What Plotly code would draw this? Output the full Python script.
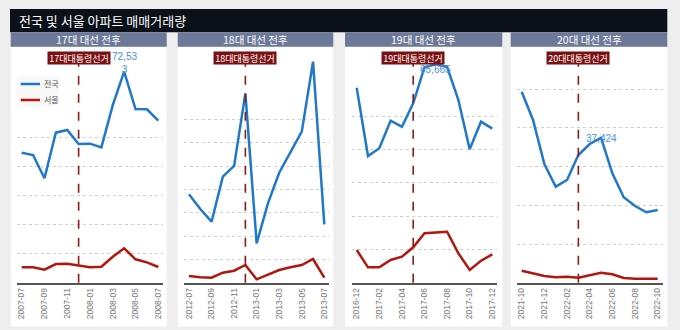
import plotly.graph_objects as go

W, H = 680, 330

# ---- data -------------------------------------------------------------
months_17 = ["2007-07", "2007-08", "2007-09", "2007-10", "2007-11", "2007-12", "2008-01",
             "2008-02", "2008-03", "2008-04", "2008-05", "2008-06", "2008-07"]
months_18 = ["2012-07", "2012-08", "2012-09", "2012-10", "2012-11", "2012-12", "2013-01",
             "2013-02", "2013-03", "2013-04", "2013-05", "2013-06", "2013-07"]
months_19 = ["2016-12", "2017-01", "2017-02", "2017-03", "2017-04", "2017-05", "2017-06",
             "2017-07", "2017-08", "2017-09", "2017-10", "2017-11", "2017-12"]
months_20 = ["2021-10", "2021-11", "2021-12", "2022-01", "2022-02", "2022-03", "2022-04",
             "2022-05", "2022-06", "2022-07", "2022-08", "2022-09", "2022-10"]

national_17 = [44680, 43880, 35870, 51560, 52470, 47660, 47780, 46520, 61000, 72533, 59690, 59580, 55680]
seoul_17 = [5280, 5280, 4470, 6420, 6530, 5970, 5280, 5500, 8930, 11810, 8030, 7000, 5400]
national_18 = [37930, 31630, 26180, 45490, 50090, 81280, 16900, 34060, 47210, 55800, 64810, 94850, 25060]
seoul_18 = [2870, 2300, 2150, 4290, 5150, 7600, 1450, 3300, 5450, 6600, 7600, 10170, 2150]
national_19 = [58650, 38100, 40420, 48730, 46920, 53950, 64800, 65665, 64900, 54950, 40110, 48430, 46330]
seoul_19 = [9830, 4630, 4630, 6830, 7820, 10640, 14850, 15150, 15340, 8830, 3820, 6620, 8540]
national_20 = [49360, 42040, 30670, 24810, 26540, 33000, 35840, 37424, 28270, 22070, 19820, 18190, 18790]
seoul_20 = [3100, 2430, 1730, 1400, 1550, 1300, 1900, 2580, 2170, 1210, 1040, 1040, 1040]

panel_titles = ["17대 대선 전후", "18대 대선 전후", "19대 대선 전후", "20대 대선 전후"]
election_labels = ["17대대통령선거", "18대대통령선거", "19대대통령선거", "20대대통령선거"]
election_months = ["2007-12", "2012-12", "2017-05", "2022-03"]
grid_values = [
    [10000, 20000, 30000, 40000, 50000],
    [10000, 20000, 30000, 40000, 50000, 60000, 70000],
    [10000, 20000, 30000, 40000, 50000],
    [10000, 20000, 30000, 40000, 50000],
]
peak_labels = [72533, None, 65665, 37424]

months = [months_17, months_18, months_19, months_20]
national = [national_17, national_18, national_19, national_20]
seoul = [seoul_17, seoul_18, seoul_19, seoul_20]

# ---- layout geometry (pixels) ------------------------------------------
panels = [
    dict(x0=10.7, x1=166.7, p0=21.7, p1=158.3, px10k=29.1, label_shift=-5),
    dict(x0=177.7, x1=333.3, p0=189.0, p1=324.3, px10k=23.3, label_shift=0),
    dict(x0=345.0, x1=502.3, p0=356.7, p1=492.3, px10k=33.25, label_shift=-5),
    dict(x0=510.7, x1=667.3, p0=521.7, p1=657.7, px10k=38.7, label_shift=-1),
]
BASE_Y = 282.7
TOP_Y = 47.0

BLUE = "#1f78c8"
RED = "#b3160f"
KR = "Noto Sans CJK KR"


def px(x):
    return x / W


def py(y):
    return 1 - y / H


fig = go.Figure()
shapes = []
annotations = []

# title bar
shapes.append(dict(type="rect", xref="paper", yref="paper", x0=px(10), x1=px(667.3),
                   y0=py(32.3), y1=py(9), fillcolor="#0b1019", line_width=0, layer="below"))
annotations.append(dict(text="전국 및 서울 아파트 매매거래량", xref="paper", yref="paper",
                        x=px(17), y=py(20.7), xanchor="left", yanchor="middle", showarrow=False,
                        font=dict(family=KR, size=13, color="white")))

layout_axes = {}
for i, p in enumerate(panels):
    n = i + 1
    xa = "xaxis" if n == 1 else f"xaxis{n}"
    ya = "yaxis" if n == 1 else f"yaxis{n}"
    xr = "x" if n == 1 else f"x{n}"
    yr = "y" if n == 1 else f"y{n}"
    cats = months[i]
    step = (p["p1"] - p["p0"]) / (len(cats) - 1)
    pad = 5.0
    idx = list(range(len(cats)))

    # panel body and header
    shapes.append(dict(type="rect", xref="paper", yref="paper", x0=px(p["x0"]), x1=px(p["x1"]),
                       y0=py(326.5), y1=py(46.7), fillcolor="white", line_width=0, layer="below"))
    shapes.append(dict(type="rect", xref="paper", yref="paper", x0=px(p["x0"]), x1=px(p["x1"]),
                       y0=py(46.7), y1=py(32.3), fillcolor="#6c7998", line_width=0, layer="below"))
    annotations.append(dict(text=panel_titles[i], xref="paper", yref="paper",
                            x=px((p["x0"] + p["x1"]) / 2), y=py(39.8), xanchor="center",
                            yanchor="middle", showarrow=False,
                            font=dict(family=KR, size=10.5, color="white")))

    ymax = (BASE_Y - TOP_Y) / p["px10k"] * 10000
    layout_axes[xa] = dict(
        domain=[px(p["p0"] - pad), px(p["p1"] + pad)],
        range=[-pad / step, len(cats) - 1 + pad / step],
        anchor=yr, showgrid=False, zeroline=False,
        showline=True, linecolor="#555555", linewidth=2,
        tickmode="array", tickvals=idx[::2], ticktext=cats[::2],
        tickangle=-90, ticks="", tickfont=dict(family="Liberation Sans", size=8.5, color="#777777"),
        fixedrange=True,
    )
    layout_axes[ya] = dict(
        domain=[py(BASE_Y), py(TOP_Y)], range=[0, ymax], anchor=xr,
        tickmode="array", tickvals=grid_values[i], showticklabels=False,
        showgrid=True, gridcolor="#cfcfcf", griddash="dot", gridwidth=1,
        zeroline=False, showline=False, ticks="", fixedrange=True,
    )

    fig.add_trace(go.Scatter(x=idx, y=seoul[i], mode="lines", xaxis=xr, yaxis=yr,
                             line=dict(color=RED, width=2.5), showlegend=False, name="서울"))
    fig.add_trace(go.Scatter(x=idx, y=national[i], mode="lines", xaxis=xr, yaxis=yr,
                             line=dict(color=BLUE, width=2.5), showlegend=False, name="전국"))

    # election marker
    ex = cats.index(election_months[i])
    shapes.append(dict(type="line", xref=xr, yref="paper", x0=ex, x1=ex,
                       y0=py(BASE_Y), y1=py(63.5), line=dict(color="#8b1c1c", width=1.6, dash="dash")))
    annotations.append(dict(text=election_labels[i], xref=xr, yref="paper", x=ex, y=py(57.5),
                            xanchor="center", yanchor="middle", showarrow=False,
                            width=62, height=12, bgcolor="#7a1012", borderpad=0,
                            font=dict(family=KR, size=9, color="white")))

    # peak value label
    v = peak_labels[i]
    if v is not None:
        k = national[i].index(v)
        s = f"{v:,}"
        if i == 0:
            annotations.append(dict(text=s[:-1] + "<br>" + s[-1], xref=xr, yref=yr, x=k, y=v,
                                    xanchor="center", yanchor="bottom", yshift=p["label_shift"],
                                    showarrow=False,
                                    font=dict(family="Liberation Sans", size=10, color="#4a90d9")))
        else:
            annotations.append(dict(text=s, xref=xr, yref=yr, x=k, y=v, xanchor="center",
                                    yanchor="middle", yshift=p["label_shift"], showarrow=False,
                                    font=dict(family="Liberation Sans", size=10, color="#4a90d9")))

# legend inside the first panel
shapes.append(dict(type="rect", xref="paper", yref="paper", x0=px(16.7), x1=px(59.3),
                   y0=py(106.7), y1=py(76.7), fillcolor="#f8f8f8", line_width=0))
for yy, col, lab in [(84, BLUE, "전국"), (100, RED, "서울")]:
    shapes.append(dict(type="line", xref="paper", yref="paper", x0=px(20.7), x1=px(40),
                       y0=py(yy), y1=py(yy), line=dict(color=col, width=2.5)))
    annotations.append(dict(text=lab, xref="paper", yref="paper", x=px(42), y=py(yy),
                            xanchor="left", yanchor="middle", showarrow=False,
                            font=dict(family=KR, size=8, color="#555555")))

fig.update_layout(
    width=W, height=H, margin=dict(l=0, r=0, t=0, b=0),
    paper_bgcolor="#eeeeee", plot_bgcolor="rgba(0,0,0,0)",
    shapes=shapes, annotations=annotations, showlegend=False,
    **layout_axes,
)

fig.write_html("out.html", config={"displayModeBar": False})
